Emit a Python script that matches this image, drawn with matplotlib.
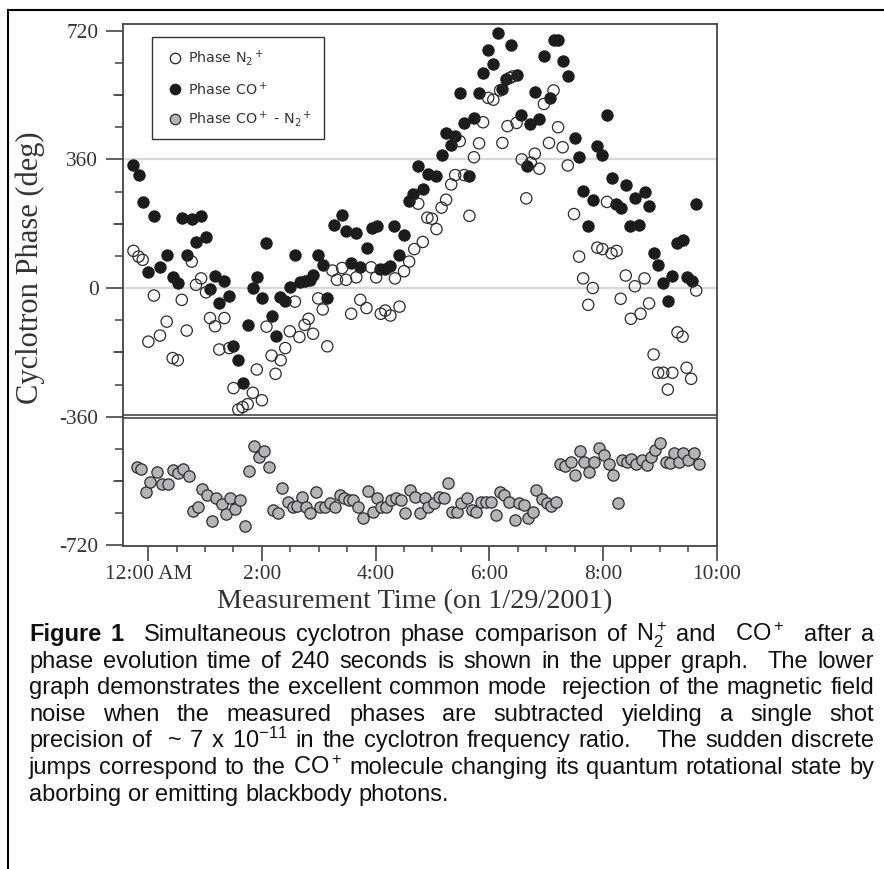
import matplotlib
matplotlib.use('Agg')
import matplotlib.pyplot as plt
from matplotlib.lines import Line2D
from matplotlib.patches import Rectangle
from matplotlib.ticker import FixedLocator
import numpy as np

plt.rcParams['mathtext.fontset'] = 'custom'
plt.rcParams['mathtext.rm'] = 'Liberation Sans'
plt.rcParams['mathtext.it'] = 'Liberation Sans:italic'
plt.rcParams['mathtext.bf'] = 'Liberation Sans:bold'

# ---------------- data (hours after midnight, phase in degrees) ----------------
co_time = [-0.26, -0.157, -0.097, 0.002, 0.107, 0.207, 0.325, 0.43, 0.52, 0.59, 0.677, 0.765,
           0.84, 0.93, 1.017, 1.087, 1.175, 1.25, 1.34, 1.427, 1.50, 1.585, 1.67, 1.76, 1.84,
           1.92, 2.0, 2.08, 2.17, 2.24, 2.32, 2.41, 2.49, 2.58, 2.67, 2.76, 2.85, 2.90, 2.99,
           3.07, 3.15, 3.26, 3.40, 3.48, 3.57, 3.66, 3.73, 3.84, 3.93, 4.02, 4.08, 4.16, 4.25,
           4.33, 4.42, 4.50, 4.58, 4.66, 4.74, 4.83, 4.93, 5.07, 5.16, 5.24, 5.33, 5.40, 5.48,
           5.56, 5.65, 5.73, 5.81, 5.89, 5.98, 6.06, 6.15, 6.22, 6.29, 6.39, 6.48, 6.56, 6.66,
           6.72, 6.80, 6.88, 6.97, 7.06, 7.13, 7.21, 7.29, 7.39, 7.50, 7.58, 7.65, 7.74, 7.82,
           7.90, 7.98, 8.07, 8.15, 8.22, 8.32, 8.40, 8.47, 8.56, 8.64, 8.73, 8.81, 8.89, 8.97,
           9.06, 9.14, 9.22, 9.30, 9.40, 9.47, 9.56, 9.63]
co_phase = [344, 316, 240, 46, 201, 58, 92, 32, 14, 197, 92, 193,
            130, 202, 143, -3, 35, -43, 21, -21, -162, -202, -266, -103, 0,
            30, -29, 126, -77, -133, -26, -35, 4, 92, 16, 21, 23, 37, 92,
            64, -29, 177, 205, 160, 70, 155, 58, 113, 168, 174, 53, 53, 61,
            174, 92, 148, 244, 262, 341, 278, 318, 313, 371, 433, 399, 425, 546,
            462, 313, 476, 546, 602, 665, 627, 713, 557, 586, 679, 597, 484, 341,
            458, 549, 472, 648, 532, 695, 695, 634, 592, 419, 367, 272, 174, 247,
            397, 371, 483, 307, 235, 225, 288, 174, 251, 177, 269, 230, 97, 65,
            14, -37, 35, 127, 134, 32, 19, 235]

n2_time = [-0.26, -0.17, -0.097, 0.002, 0.10, 0.207, 0.325, 0.43, 0.52, 0.59, 0.677, 0.765,
           0.84, 0.93, 1.017, 1.087, 1.175, 1.25, 1.34, 1.427, 1.50, 1.585, 1.66, 1.75, 1.84,
           1.91, 2.0, 2.08, 2.17, 2.24, 2.33, 2.41, 2.49, 2.58, 2.66, 2.75, 2.82, 2.90, 2.99,
           3.07, 3.15, 3.24, 3.32, 3.41, 3.48, 3.57, 3.66, 3.73, 3.84, 3.92, 4.01, 4.09, 4.17,
           4.26, 4.34, 4.42, 4.50, 4.59, 4.68, 4.75, 4.83, 4.91, 4.99, 5.07, 5.16, 5.24, 5.33,
           5.40, 5.48, 5.56, 5.65, 5.73, 5.82, 5.89, 5.98, 6.07, 6.19, 6.23, 6.32, 6.36, 6.41,
           6.48, 6.57, 6.65, 6.73, 6.80, 6.88, 6.96, 7.05, 7.13, 7.21, 7.29, 7.38, 7.49, 7.58,
           7.65, 7.74, 7.82, 7.90, 7.99, 8.07, 8.15, 8.24, 8.31, 8.40, 8.49, 8.56, 8.66, 8.73,
           8.81, 8.89, 8.97, 9.06, 9.14, 9.22, 9.31, 9.40, 9.47, 9.55, 9.64]
n2_phase = [104, 88, 79, -150, -21, -133, -94, -196, -202, -33, -119, 74,
            9, 27, -12, -84, -107, -172, -84, -168, -280, -340, -333, -325, -293,
            -228, -314, -108, -189, -240, -202, -168, -121, -38, -137, -103, -86, -128, -29,
            -60, -163, 49, 23, 56, 23, -72, 30, -33, -56, 58, 30, -72, -63,
            -77, 27, -52, 47, 74, 109, 236, 129, 197, 194, 165, 225, 247, 290,
            316, 411, 316, 202, 366, 405, 464, 532, 527, 553, 406, 453, 588, 592,
            462, 360, 251, 351, 376, 334, 515, 406, 553, 450, 394, 343, 207, 88,
            27, -47, 0, 113, 109, 241, 97, 104, -30, 35, -86, 5, -72, 27,
            -43, -186, -237, -237, -284, -237, -124, -136, -223, -254, -7]

diff_time = [-0.20, -0.12, -0.04, 0.03, 0.15, 0.24, 0.35, 0.44, 0.53, 0.61, 0.71, 0.78,
             0.87, 0.94, 1.03, 1.13, 1.20, 1.29, 1.37, 1.44, 1.53, 1.61, 1.70, 1.78, 1.86,
             1.94, 2.04, 2.13, 2.19, 2.28, 2.35, 2.46, 2.54, 2.61, 2.70, 2.78, 2.85, 2.95,
             3.02, 3.11, 3.19, 3.28, 3.37, 3.45, 3.53, 3.61, 3.69, 3.78, 3.87, 3.95, 4.02,
             4.09, 4.18, 4.27, 4.36, 4.45, 4.52, 4.61, 4.69, 4.78, 4.86, 4.93, 5.02, 5.12,
             5.20, 5.28, 5.35, 5.44, 5.51, 5.61, 5.69, 5.77, 5.85, 5.94, 6.03, 6.11, 6.19,
             6.26, 6.35, 6.45, 6.52, 6.61, 6.68, 6.76, 6.83, 6.93, 7.01, 7.09, 7.17, 7.24,
             7.34, 7.44, 7.51, 7.60, 7.67, 7.75, 7.85, 7.93, 8.01, 8.10, 8.17, 8.27, 8.34,
             8.42, 8.50, 8.58, 8.68, 8.77, 8.84, 8.91, 9.00, 9.10, 9.18, 9.25, 9.34, 9.41,
             9.50, 9.60, 9.69]
diff_phase = [-500, -506, -570, -542, -514, -548, -548, -509, -518, -505, -525, -623,
              -612, -562, -579, -653, -588, -604, -632, -588, -618, -593, -667, -511, -441,
              -474, -455, -502, -621, -630, -560, -598, -612, -610, -585, -612, -630, -570,
              -612, -612, -602, -612, -579, -588, -593, -593, -612, -644, -567, -626, -588,
              -612, -612, -593, -588, -593, -630, -565, -584, -630, -588, -613, -602, -584,
              -588, -546, -627, -627, -602, -588, -621, -627, -598, -598, -598, -635, -570,
              -579, -598, -649, -602, -607, -644, -627, -565, -590, -602, -610, -598, -491,
              -497, -486, -523, -455, -486, -514, -486, -449, -467, -491, -523, -602, -481,
              -486, -477, -491, -481, -495, -472, -453, -435, -486, -489, -461, -486, -461,
              -481, -463, -491]

x_tick_pos = [0, 2, 4, 6, 8, 10]
x_tick_labels = ['12:00 AM', '2:00', '4:00', '6:00', '8:00', '10:00']
y_tick_pos = [-720, -360, 0, 360, 720]
y_tick_labels = ['-720', '-360', '0', '360', '720']
legend_labels = ['Phase N$_2$$^+$', 'Phase CO$^+$', 'Phase CO$^+$ - N$_2$$^+$']

xlabel = 'Measurement Time (on 1/29/2001)'
ylabel = 'Cyclotron Phase (deg)'

caption_lines = [
    'Figure 1  Simultaneous cyclotron phase comparison of N$_2^+$ and  CO$^+$  after a',
    'phase evolution time of 240 seconds is shown in the upper graph.  The lower',
    'graph demonstrates the excellent common mode  rejection of the magnetic field',
    'noise when the measured phases are subtracted yielding a single shot',
    'precision of  ~ 7 x 10$^{-11}$ in the cyclotron frequency ratio.   The sudden discrete',
    'jumps correspond to the CO$^+$ molecule changing its quantum rotational state by',
    'aborbing or emitting blackbody photons.',
]

# ---------------- figure ----------------
W, H = 884, 869
fig = plt.figure(figsize=(W / 100, H / 100), dpi=100)
fig.patch.set_facecolor('white')

def fx(px):
    return px / W

def fy(py):
    return 1 - py / H

ax_l, ax_r, ax_t, ax_b = 122.7, 716.7, 24.3, 545.7
ax = fig.add_axes([fx(ax_l), fy(ax_b), fx(ax_r - ax_l), (ax_b - ax_t) / H])
ax.set_xlim(-0.449, 10.0)
ax.set_ylim(-721, 738)

spine_col = '#444444'
for s in ax.spines.values():
    s.set_color(spine_col)
    s.set_linewidth(1.3)

ax.axhline(360, color='#d9d9d9', lw=1.6, zorder=0)
ax.axhline(0, color='#d9d9d9', lw=1.6, zorder=0)
ax.axhline(-355.5, color='#3a3a3a', lw=1.1, zorder=1)
ax.axhline(-364.5, color='#3a3a3a', lw=1.1, zorder=1)

ms = 66
ax.scatter(diff_time, diff_phase, s=ms, facecolor='#b4b4b7', edgecolor='#2b2b2b',
           linewidth=0.9, zorder=3)
ax.scatter(co_time, co_phase, s=ms, facecolor='#1c1c1c', edgecolor='#1c1c1c',
           linewidth=0.8, zorder=3)
ax.scatter(n2_time, n2_phase, s=ms, facecolor='none', edgecolor='#2b2b2b',
           linewidth=0.9, zorder=4)

serif = 'Liberation Serif'
tick_col = '#333333'
tick_fs = 15.4
ax.set_xticks(x_tick_pos)
ax.set_xticklabels(x_tick_labels, family=serif, fontsize=tick_fs, color=tick_col)
ax.xaxis.set_minor_locator(FixedLocator(np.arange(0, 10.01, 0.5)))
ax.set_yticks(y_tick_pos)
ax.set_yticklabels(y_tick_labels, family=serif, fontsize=tick_fs, color=tick_col)
ax.yaxis.set_minor_locator(FixedLocator(np.arange(-630, 721, 90)))
ax.tick_params(axis='x', which='major', direction='out', length=11, width=1.2,
               color=spine_col, pad=3)
ax.tick_params(axis='x', which='minor', direction='out', length=4.5, width=1.1,
               color=spine_col)
ax.tick_params(axis='y', which='major', direction='out', length=12.5, width=1.2,
               color=spine_col, pad=5)
ax.tick_params(axis='y', which='minor', direction='out', length=6, width=1.1,
               color=spine_col)
# medium-length ticks at 180-degree marks
med = 9.0 / (ax_r - ax_l)
for yv in [-540, -180, 180, 540]:
    ax.add_line(Line2D([-med, 0], [yv, yv], transform=ax.get_yaxis_transform(),
                       color=spine_col, lw=1.1, clip_on=False))

fig.text(fx(415), fy(602), xlabel, family=serif, fontsize=20.3, color=tick_col,
         ha='center', va='center')
fig.text(fx(30), fy(268), ylabel, family=serif, fontsize=22, color=tick_col,
         ha='center', va='center', rotation=90)

# ---------------- legend (drawn by hand) ----------------
fig.add_artist(Rectangle((fx(151.7), fy(139)), fx(324 - 151.7), (139 - 37.3) / H,
                         transform=fig.transFigure, fill=False, ec='#333333', lw=1.0))
leg_y = [57.7, 89.3, 119.3]
leg_style = [dict(mfc='white', mec='#222222'), dict(mfc='#1c1c1c', mec='#1c1c1c'),
             dict(mfc='#b4b4b7', mec='#2b2b2b')]
for yy, lab, st in zip(leg_y, legend_labels, leg_style):
    fig.add_artist(Line2D([fx(175)], [fy(yy)], transform=fig.transFigure, marker='o',
                          ms=7.5, mew=0.9, ls='none', **st))
    fig.text(fx(188), fy(yy), lab, family='DejaVu Sans', fontsize=10.3, color='#333333',
             ha='left', va='center', math_fontfamily='dejavusans')

# ---------------- page frame ----------------
fig.add_artist(Line2D([fx(7.7), 1.0], [fy(10), fy(10)], transform=fig.transFigure,
                      color='black', lw=1.5))
fig.add_artist(Line2D([fx(7.7), fx(7.7)], [fy(10), 0], transform=fig.transFigure,
                      color='black', lw=1.5))

# ---------------- justified caption ----------------
renderer = fig.canvas.get_renderer()
cap_x0, cap_x1 = 29, 874
cap_fs = 17
base0 = 641
line_gap = 26.6
for i, line in enumerate(caption_lines):
    toks = line.split(' ')
    objs, widths = [], []
    for j, tk in enumerate(toks):
        if tk == '':
            objs.append(None)
            widths.append(0.0)
            continue
        bold = (i == 0 and j < 2)
        t = fig.text(0, fy(base0 + i * line_gap), tk, family='Liberation Sans',
                     fontsize=cap_fs, weight='bold' if bold else 'normal',
                     color='#111111', ha='left', va='baseline')
        objs.append(t)
        widths.append(t.get_window_extent(renderer).width)
    ngaps = len(toks) - 1
    if i < len(caption_lines) - 1:
        gap = (cap_x1 - cap_x0 - sum(widths)) / ngaps
    else:
        gap = 0.278 * cap_fs * 100 / 72
    x = cap_x0
    for t, w in zip(objs, widths):
        if t is not None:
            t.set_x(fx(x))
        x += w + gap

fig.savefig('out.png', dpi=100)
